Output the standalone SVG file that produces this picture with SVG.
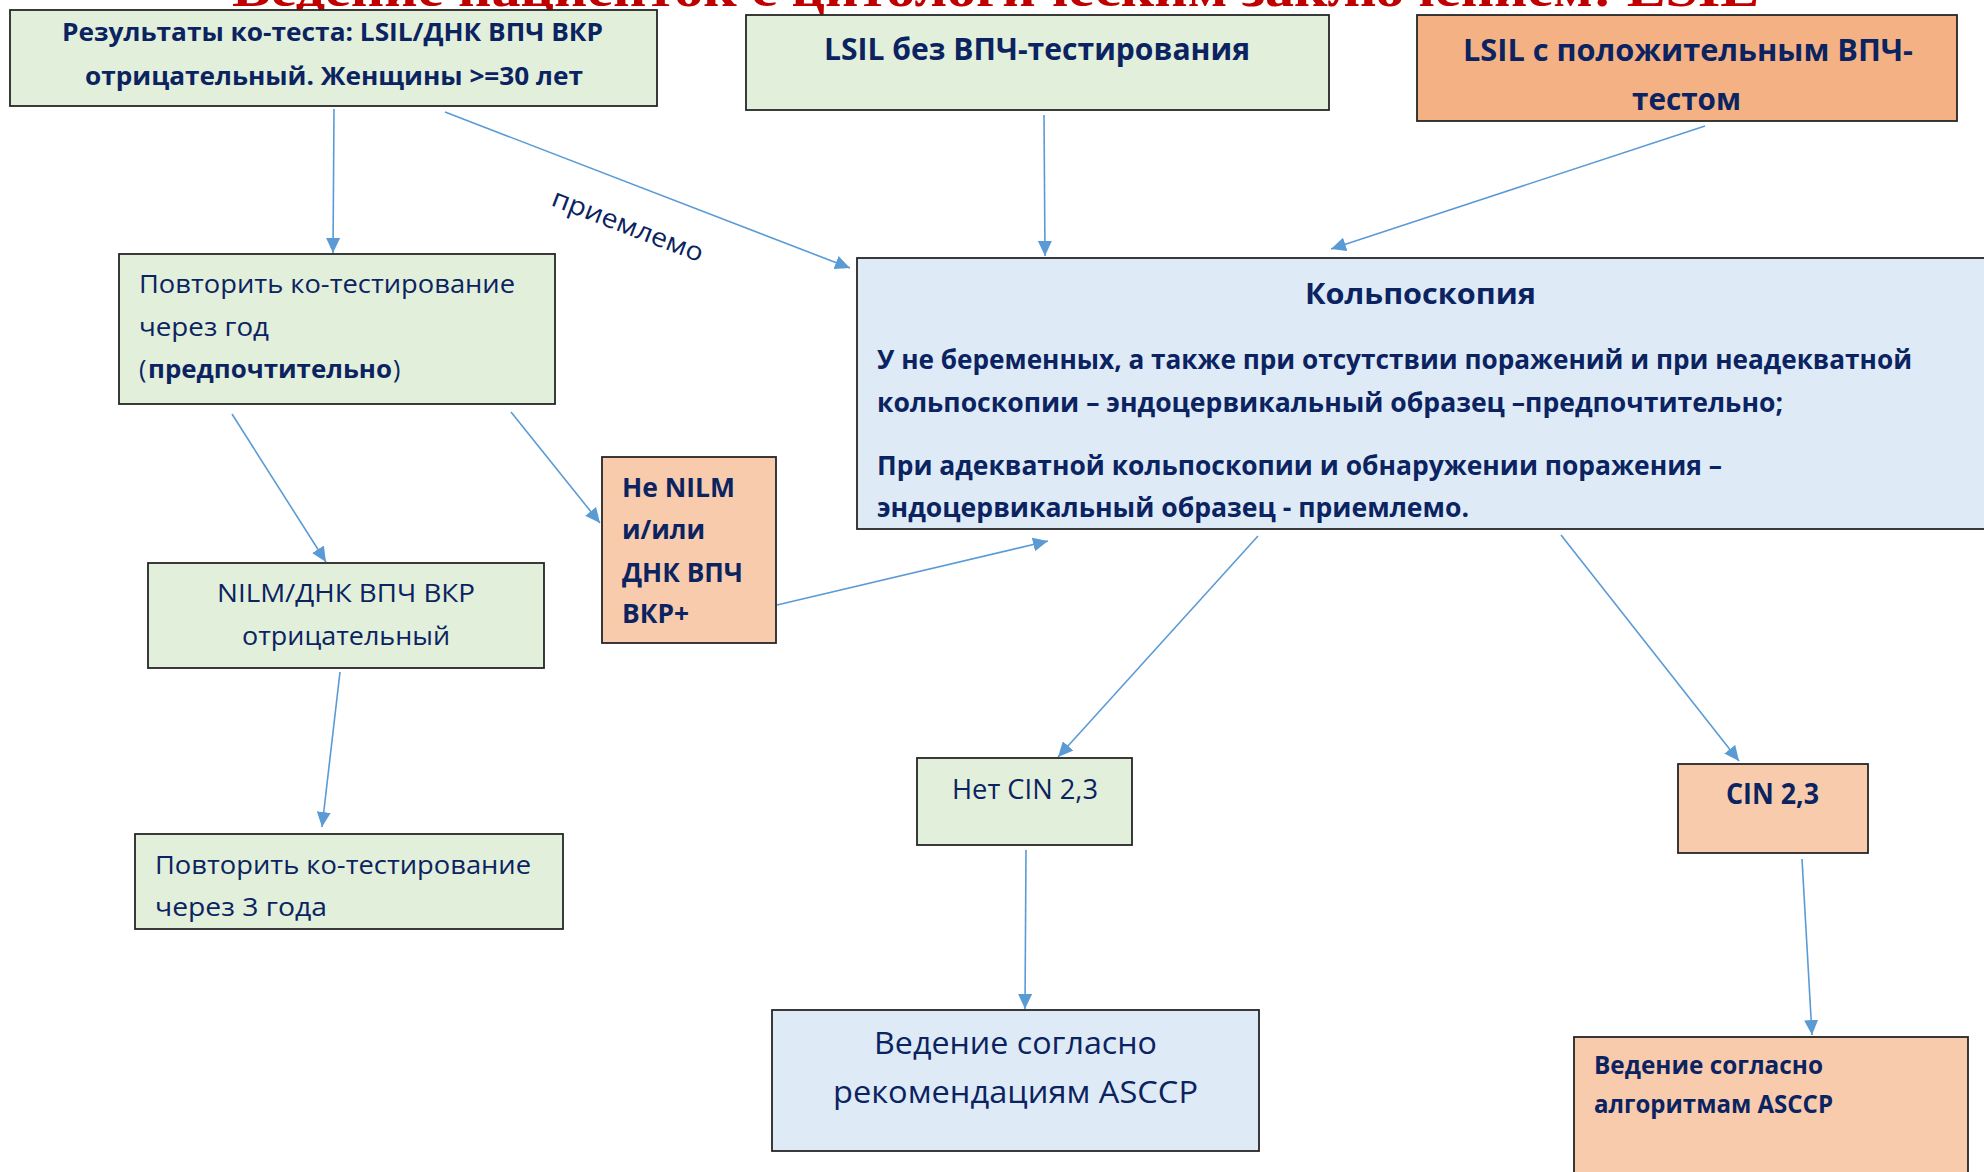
<svg xmlns="http://www.w3.org/2000/svg" width="1984" height="1172" viewBox="0 0 1984 1172">
  <defs>
    <marker id="arrow" markerUnits="userSpaceOnUse" markerWidth="16" markerHeight="14" refX="15" refY="7" orient="auto">
      <path d="M0,0 L15,7 L0,14 z" fill="#5b9bd5"/>
    </marker>
    <style>
      .box { stroke: #262626; stroke-width: 1.8; }
      .green { fill: #e2efda; }
      .blue { fill: #deebf7; }
      .orange { fill: #f4b183; }
      .peach { fill: #f8cbad; }
      .t { font-family: "Open Sans", "Noto Sans", "Liberation Sans", sans-serif; fill: #0b2360; }
      .b { font-weight: bold; }
      .edge { stroke: #5b9bd5; stroke-width: 1.6; fill: none; marker-end: url(#arrow); }
      .title { font-family: "Liberation Serif", serif; font-weight: bold; fill: #c00000; }
    </style>
  </defs>

  <rect width="1984" height="1172" fill="#ffffff"/>

  <!-- slide heading, mostly cut off at the top -->
  <text class="title" x="232" y="6" font-size="50" textLength="1527" lengthAdjust="spacingAndGlyphs">Ведение пациенток с цитологическим заключением: LSIL</text>

  <g id="connectors">
    <line class="edge" x1="334" y1="109" x2="333" y2="253"/>
    <line class="edge" x1="445" y1="112" x2="850" y2="268"/>
    <line class="edge" x1="1044" y1="115" x2="1045" y2="256"/>
    <line class="edge" x1="1705" y1="126" x2="1331" y2="249"/>
    <line class="edge" x1="232" y1="414" x2="326" y2="562"/>
    <line class="edge" x1="511" y1="412" x2="600" y2="523"/>
    <line class="edge" x1="777" y1="605" x2="1048" y2="541"/>
    <line class="edge" x1="340" y1="672" x2="322" y2="827"/>
    <line class="edge" x1="1258" y1="536" x2="1058" y2="757"/>
    <line class="edge" x1="1561" y1="535" x2="1739" y2="761"/>
    <line class="edge" x1="1026" y1="850" x2="1025" y2="1009"/>
    <line class="edge" x1="1802" y1="859" x2="1812" y2="1035"/>
    <text class="t" x="550" y="205" font-size="26" transform="rotate(21 550 205)" textLength="160" lengthAdjust="spacingAndGlyphs">приемлемо</text>
  </g>

  <g id="cotest-result">
    <rect class="box green" x="10" y="10" width="647" height="96"/>
    <text class="t b" x="62" y="41" font-size="25" textLength="541" lengthAdjust="spacingAndGlyphs">Результаты ко-теста: LSIL/ДНК ВПЧ ВКР</text>
    <text class="t b" x="85" y="85" font-size="25" textLength="498" lengthAdjust="spacingAndGlyphs">отрицательный. Женщины &gt;=30 лет</text>
  </g>

  <g id="lsil-no-hpv">
    <rect class="box green" x="746" y="15" width="583" height="95"/>
    <text class="t b" x="824" y="60" font-size="30" textLength="426" lengthAdjust="spacingAndGlyphs">LSIL без ВПЧ-тестирования</text>
  </g>

  <g id="lsil-hpv-pos">
    <rect class="box orange" x="1417" y="15" width="540" height="106"/>
    <text class="t b" x="1463" y="61" font-size="30" textLength="450" lengthAdjust="spacingAndGlyphs">LSIL с положительным ВПЧ-</text>
    <text class="t b" x="1632" y="110" font-size="30" textLength="109" lengthAdjust="spacingAndGlyphs">тестом</text>
  </g>

  <g id="repeat-1y">
    <rect class="box green" x="119" y="254" width="436" height="150"/>
    <text class="t" x="139" y="293" font-size="25" textLength="376" lengthAdjust="spacingAndGlyphs">Повторить ко-тестирование</text>
    <text class="t" x="139" y="336" font-size="25" textLength="130" lengthAdjust="spacingAndGlyphs">через год</text>
    <text class="t" x="139" y="378" font-size="25">(</text>
    <text class="t b" x="148" y="378" font-size="25" textLength="244" lengthAdjust="spacingAndGlyphs">предпочтительно</text>
    <text class="t" x="393" y="378" font-size="25">)</text>
  </g>

  <g id="colposcopy">
    <rect class="box blue" x="857" y="258" width="1140" height="271"/>
    <text class="t b" x="1305" y="304" font-size="29" textLength="231" lengthAdjust="spacingAndGlyphs">Кольпоскопия</text>
    <text class="t b" x="877" y="369" font-size="27" textLength="1035" lengthAdjust="spacingAndGlyphs">У не беременных, а также при отсутствии поражений и при неадекватной</text>
    <text class="t b" x="877" y="412" font-size="27" textLength="906" lengthAdjust="spacingAndGlyphs">кольпоскопии – эндоцервикальный образец –предпочтительно;</text>
    <text class="t b" x="877" y="475" font-size="27" textLength="845" lengthAdjust="spacingAndGlyphs">При адекватной кольпоскопии и обнаружении поражения –</text>
    <text class="t b" x="877" y="517" font-size="27" textLength="592" lengthAdjust="spacingAndGlyphs">эндоцервикальный образец - приемлемо.</text>
  </g>

  <g id="not-nilm">
    <rect class="box peach" x="602" y="457" width="174" height="186"/>
    <text class="t b" x="622" y="497" font-size="27" textLength="113" lengthAdjust="spacingAndGlyphs">Не NILM</text>
    <text class="t b" x="622" y="539" font-size="27" textLength="83" lengthAdjust="spacingAndGlyphs">и/или</text>
    <text class="t b" x="622" y="582" font-size="27" textLength="121" lengthAdjust="spacingAndGlyphs">ДНК ВПЧ</text>
    <text class="t b" x="622" y="623" font-size="27" textLength="67" lengthAdjust="spacingAndGlyphs">ВКР+</text>
  </g>

  <g id="nilm-neg">
    <rect class="box green" x="148" y="563" width="396" height="105"/>
    <text class="t" x="217" y="602" font-size="25" textLength="258" lengthAdjust="spacingAndGlyphs">NILM/ДНК ВПЧ ВКР</text>
    <text class="t" x="242" y="645" font-size="25" textLength="208" lengthAdjust="spacingAndGlyphs">отрицательный</text>
  </g>

  <g id="repeat-3y">
    <rect class="box green" x="135" y="834" width="428" height="95"/>
    <text class="t" x="155" y="874" font-size="25" textLength="376" lengthAdjust="spacingAndGlyphs">Повторить ко-тестирование</text>
    <text class="t" x="155" y="916" font-size="25" textLength="172" lengthAdjust="spacingAndGlyphs">через 3 года</text>
  </g>

  <g id="no-cin">
    <rect class="box green" x="917" y="758" width="215" height="87"/>
    <text class="t" x="952" y="799" font-size="28" textLength="146" lengthAdjust="spacingAndGlyphs">Нет CIN 2,3</text>
  </g>

  <g id="cin23">
    <rect class="box peach" x="1678" y="764" width="190" height="89"/>
    <text class="t b" x="1726" y="804" font-size="28" textLength="93" lengthAdjust="spacingAndGlyphs">CIN 2,3</text>
  </g>

  <g id="asccp-recommendations">
    <rect class="box blue" x="772" y="1010" width="487" height="141"/>
    <text class="t" x="874" y="1054" font-size="31" textLength="283" lengthAdjust="spacingAndGlyphs">Ведение согласно</text>
    <text class="t" x="833" y="1103" font-size="31" textLength="365" lengthAdjust="spacingAndGlyphs">рекомендациям ASCCP</text>
  </g>

  <g id="asccp-algorithms">
    <rect class="box peach" x="1574" y="1037" width="394" height="160"/>
    <text class="t b" x="1594" y="1074" font-size="25" textLength="229" lengthAdjust="spacingAndGlyphs">Ведение согласно</text>
    <text class="t b" x="1594" y="1113" font-size="25" textLength="239" lengthAdjust="spacingAndGlyphs">алгоритмам ASCCP</text>
  </g>
</svg>
